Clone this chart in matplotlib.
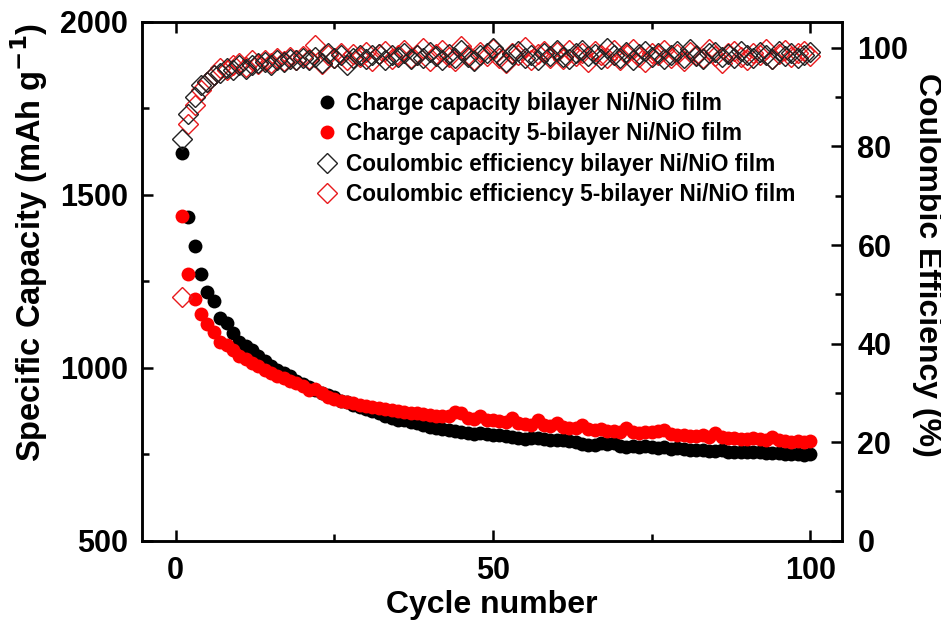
import matplotlib
matplotlib.use("Agg")
import matplotlib.pyplot as plt
from matplotlib.ticker import MultipleLocator
from matplotlib.lines import Line2D

plt.rcParams['font.family'] = ['Liberation Sans', 'DejaVu Sans']
plt.rcParams['font.weight'] = 'bold'
plt.rcParams['mathtext.default'] = 'bf'

cycles = list(range(1, 101))

cap_bilayer = [1620, 1437, 1353, 1272, 1220, 1194, 1145, 1130, 1100, 1075,
               1063, 1050, 1035, 1020, 1005, 995, 985, 975, 962, 953,
               945, 935, 928, 922, 915, 905, 900, 893, 886, 880,
               875, 868, 862, 856, 850, 848, 843, 840, 836, 830,
               826, 822, 820, 817, 814, 812, 810, 812, 808, 806,
               805, 803, 800, 798, 795, 798, 796, 793, 790, 792,
               790, 788, 785, 780, 776, 778, 782, 780, 784, 775,
               772, 774, 770, 775, 772, 768, 770, 766, 768, 765,
               763, 762, 762, 760, 760, 761, 758, 758, 757, 758,
               756, 757, 755, 754, 755, 752, 752, 750, 749, 752]

cap_5bilayer = [1440, 1272, 1200, 1156, 1127, 1103, 1075, 1065, 1050, 1035,
                1025, 1015, 1005, 995, 985, 977, 970, 962, 955, 948,
                935, 940, 928, 915, 910, 905, 900, 897, 893, 890,
                887, 885, 880, 877, 875, 872, 870, 868, 866, 864,
                862, 860, 860, 872, 870, 856, 852, 862, 850, 848,
                845, 843, 854, 840, 838, 836, 848, 834, 832, 840,
                830, 826, 825, 836, 824, 820, 822, 818, 816, 815,
                826, 815, 812, 814, 815, 818, 820, 810, 806, 805,
                804, 802, 805, 800, 812, 800, 798, 796, 795, 794,
                797, 793, 790, 800, 791, 788, 786, 787, 785, 787]

ce_bilayer = [81.5, 86.5, 90.0, 92.5, 93.0, 94.5, 95.0, 96.0, 95.5, 96.5,
              95.8, 96.5, 97.0, 97.2, 96.5, 97.5, 97.2, 97.8, 97.5, 98.0,
              97.5, 98.2, 97.0, 99.0, 98.0, 98.5, 96.5, 98.0, 98.6, 97.8,
              98.5, 98.8, 97.6, 98.5, 98.2, 99.0, 97.8, 98.6, 98.0, 99.2,
              98.3, 97.5, 98.8, 98.0, 99.5, 98.2, 97.3, 98.6, 99.0, 100.0,
              98.5, 97.2, 98.8, 99.3, 98.0, 98.6, 97.6, 99.0, 98.4, 99.6,
              98.2, 97.8, 98.9, 99.5, 98.3, 98.8, 97.7, 100.0, 98.5, 98.0,
              99.2, 97.6, 98.7, 99.4, 98.2, 98.9, 97.8, 98.5, 99.3, 98.0,
              99.8, 98.4, 97.8, 98.9, 99.2, 98.1, 98.7, 97.9, 99.4, 98.5,
              98.0, 99.1, 98.6, 97.8, 99.3, 98.4, 98.9, 98.0, 98.6, 99.2]

ce_5bilayer = [49.5, 84.5, 88.5, 91.5, 93.0, 94.5, 96.0, 95.5, 96.5, 97.0,
               96.2, 97.5, 96.8, 97.6, 97.0, 98.0, 97.4, 98.2, 97.6, 98.4,
               97.8, 100.5, 96.8, 98.6, 98.0, 99.0, 97.5, 98.8, 98.2, 99.2,
               97.4, 98.7, 99.4, 97.8, 98.6, 99.6, 98.0, 98.5, 100.0, 97.4,
               98.8, 99.5, 98.2, 97.3, 100.4, 98.6, 97.5, 99.2, 98.4, 99.8,
               98.0, 96.9, 99.0, 98.6, 100.2, 97.6, 98.8, 99.4, 98.0, 99.1,
               97.7, 99.6, 98.3, 98.9, 97.2, 99.3, 98.5, 98.0, 99.5, 97.6,
               98.7, 99.8, 98.2, 97.1, 99.0, 98.5, 99.6, 98.0, 98.8, 97.4,
               99.2, 98.6, 97.9, 99.7, 98.3, 97.0, 98.9, 99.4, 98.1, 97.5,
               99.0, 98.6, 99.8, 97.7, 98.8, 99.5, 98.2, 98.9, 99.3, 98.4]

labels = ["Charge capacity bilayer Ni/NiO film",
          "Charge capacity 5-bilayer Ni/NiO film",
          "Coulombic efficiency bilayer Ni/NiO film",
          "Coulombic efficiency 5-bilayer Ni/NiO film"]

fig = plt.figure(figsize=(9.41, 6.23), dpi=100)
ax = fig.add_axes([0.151, 0.132, 0.744, 0.833])
ax2 = ax.twinx()

ms_c = 10
ms_d = 10.5
ax.plot(cycles, cap_bilayer, 'o', color='black', markersize=ms_c, markeredgewidth=0, zorder=3)
ax.plot(cycles, cap_5bilayer, 'o', color='#ff0000', markersize=ms_c, markeredgewidth=0, zorder=4)
ax2.plot(cycles, ce_5bilayer, 'D', markerfacecolor='none', markeredgecolor='#e8191c',
         markersize=ms_d, markeredgewidth=1.0, linestyle='none')
ax2.plot(cycles, ce_bilayer, 'D', markerfacecolor='none', markeredgecolor='#222222',
         markersize=ms_d, markeredgewidth=1.0, linestyle='none')

ax.set_xlim(-5.3, 105)
ax.set_ylim(500, 2000)
ax2.set_ylim(0, 105.3)

ax.xaxis.set_major_locator(MultipleLocator(50))
ax.xaxis.set_minor_locator(MultipleLocator(25))
ax.yaxis.set_major_locator(MultipleLocator(500))
ax.yaxis.set_minor_locator(MultipleLocator(250))
ax2.yaxis.set_major_locator(MultipleLocator(20))
ax2.yaxis.set_minor_locator(MultipleLocator(10))

ax.tick_params(axis='both', which='both', direction='in', top=True, width=1.8, labelsize=22)
ax.tick_params(which='major', length=8)
ax.tick_params(which='minor', length=5)
ax.tick_params(axis='y', pad=10)
ax.tick_params(axis='x', pad=11)
ax2.tick_params(axis='y', which='both', direction='in', width=1.8, labelsize=22, pad=11)
ax2.tick_params(which='major', length=8)
ax2.tick_params(which='minor', length=5)

for a in (ax, ax2):
    for s in a.spines.values():
        s.set_linewidth(1.8)
    for lab in a.get_xticklabels() + a.get_yticklabels():
        lab.set_fontweight('bold')

ax.set_xlabel("Cycle number", fontsize=23, fontweight='bold', labelpad=3)
ax.set_ylabel(r"Specific Capacity (mAh g$^{-1}$)", fontsize=23.5, fontweight='bold', labelpad=7)
ax.yaxis.label.set_y(0.574)
ax2.set_ylabel("Coulombic Efficiency (%)", fontsize=23, fontweight='bold', rotation=270, labelpad=24)
ax2.yaxis.label.set_y(0.532)

handles = [Line2D([], [], marker='o', color='black', linestyle='none', markersize=ms_c, markeredgewidth=0),
           Line2D([], [], marker='o', color='#ff0000', linestyle='none', markersize=ms_c, markeredgewidth=0),
           Line2D([], [], marker='D', markerfacecolor='none', markeredgecolor='#222222', linestyle='none', markersize=ms_d, markeredgewidth=1.0),
           Line2D([], [], marker='D', markerfacecolor='none', markeredgecolor='#e8191c', linestyle='none', markersize=ms_d, markeredgewidth=1.0)]
leg = ax2.legend(handles, labels, loc='upper left', bbox_to_anchor=(0.323, 0.871),
                 bbox_transform=fig.transFigure, frameon=False,
                 prop={'family': 'Liberation Sans', 'weight': 'bold', 'size': 16.3},
                 handletextpad=0.35, labelspacing=0.33, handlelength=1.0, borderpad=0)

fig.savefig("out.png", dpi=100)
